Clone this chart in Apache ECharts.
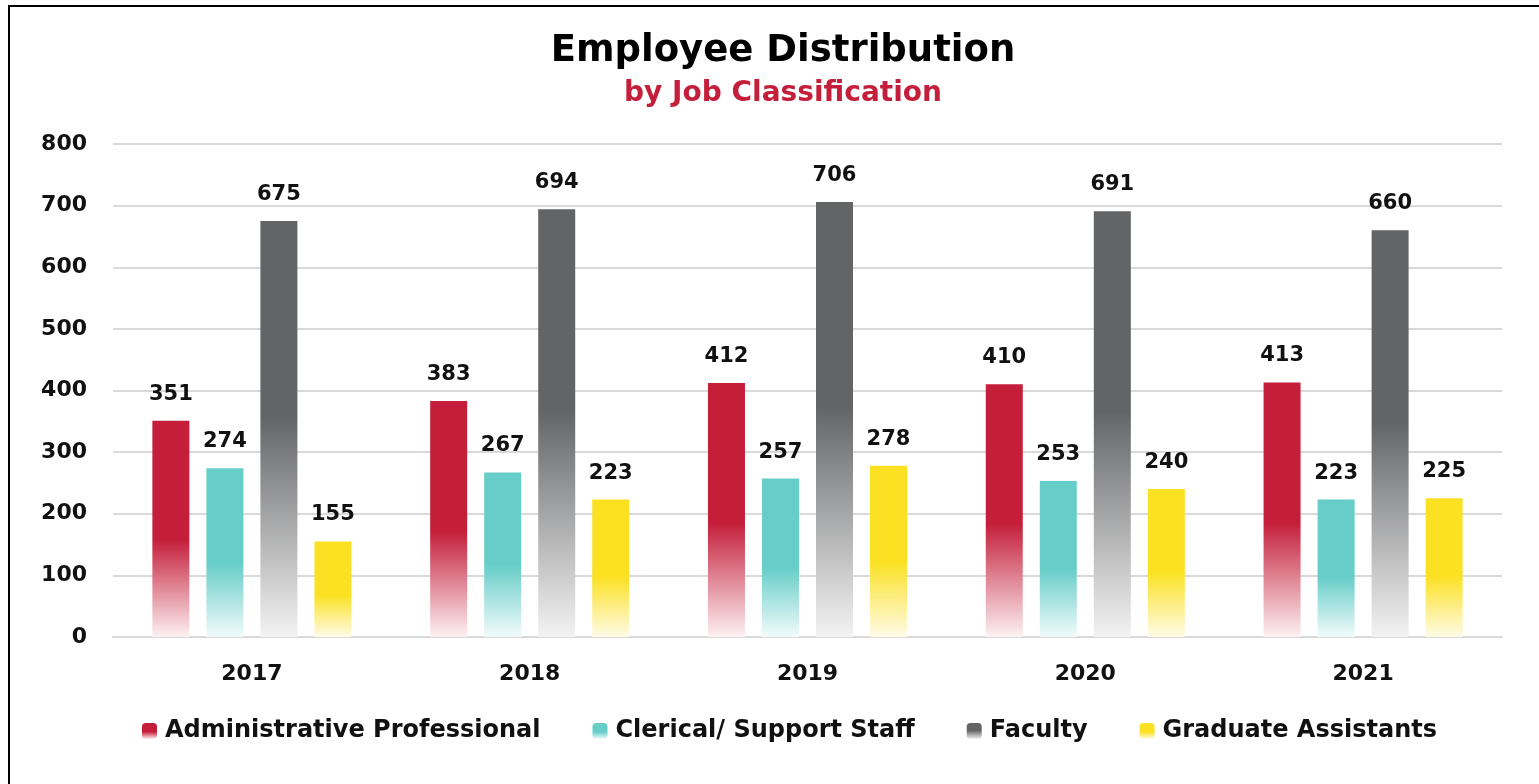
<!DOCTYPE html>
<html>
<head>
<meta charset="utf-8">
<script src="https://cdn.jsdelivr.net/npm/echarts@6/dist/echarts.min.js"></script>
<style>
  html, body { margin: 0; padding: 0; background: #fff; }
  #wrap { position: relative; width: 1539px; height: 784px; overflow: hidden; }
  #frame { position: absolute; left: 8px; top: 5px; width: 1600px; height: 900px;
           border-left: 2px solid #000; border-top: 2px solid #000; box-sizing: border-box; }
  #chart { position: absolute; left: 0; top: 0; width: 1539px; height: 784px; }
</style>
</head>
<body>
<div id="wrap">
  <div id="frame"></div>
  <div id="chart"></div>
</div>
<script>
const years = ['2017', '2018', '2019', '2020', '2021']
const adminProfessional = [351, 383, 412, 410, 413]
const clericalSupport = [274, 267, 257, 253, 223]
const faculty = [675, 694, 706, 691, 660]
const gradAssistants = [155, 223, 278, 240, 225]

const font = '"DejaVu Sans", "Noto Sans", sans-serif'

function fade(color, end, solidTo) {
  return {
    type: 'linear', x: 0, y: 0, x2: 0, y2: 1,
    colorStops: [
      {offset: 0, color: color},
      {offset: solidTo, color: color},
      {offset: 1, color: end}
    ]
  }
}

function makeSeries(name, data, color) {
  return {
    name: name,
    type: 'bar',
    data: data,
    barWidth: 37,
    barGap: '46%',
    itemStyle: {color: color},
    label: {
      show: true,
      position: 'top',
      distance: 16,
      color: '#111',
      fontFamily: font,
      fontWeight: 'bold',
      fontSize: 21
    }
  }
}

const chart = echarts.init(document.getElementById('chart'))
chart.setOption({
  animation: false,
  title: {
    text: 'Employee Distribution',
    subtext: 'by Job Classification',
    left: 778,
    textAlign: 'center',
    top: 28,
    itemGap: 10,
    textStyle: {fontFamily: font, fontWeight: 'bold', fontSize: 37, color: '#000'},
    subtextStyle: {fontFamily: font, fontWeight: 'bold', fontSize: 28, color: '#c41e3a'}
  },
  legend: {
    bottom: 36,
    left: 137,
    itemWidth: 15,
    itemHeight: 16,
    itemGap: 52,
    textStyle: {fontFamily: font, fontWeight: 'bold', fontSize: 24, color: '#111', padding: [0, 0, 0, 3]}
  },
  grid: {left: 113, right: 37, top: 144, bottom: 147},
  xAxis: {
    type: 'category',
    data: years,
    axisLine: {lineStyle: {color: '#d9d9d9', width: 2}},
    axisTick: {show: false},
    axisLabel: {margin: 26, color: '#111', fontFamily: font, fontWeight: 'bold', fontSize: 22}
  },
  yAxis: {
    type: 'value',
    min: 0,
    max: 800,
    interval: 100,
    axisLine: {show: false},
    axisTick: {show: false},
    splitLine: {lineStyle: {color: '#d9d9d9', width: 2}},
    axisLabel: {margin: 26, color: '#111', fontFamily: font, fontWeight: 'bold', fontSize: 22}
  },
  series: [
    makeSeries('Administrative Professional', adminProfessional, fade('#c41e3a', '#fdf1f3', 0.55)),
    makeSeries('Clerical/ Support Staff', clericalSupport, fade('#66cdc8', '#f2fbfb', 0.56)),
    makeSeries('Faculty', faculty, fade('#636466', '#f3f3f3', 0.47)),
    makeSeries('Graduate Assistants', gradAssistants, fade('#fbe122', '#fffbe8', 0.56))
  ]
})
</script>
</body>
</html>
